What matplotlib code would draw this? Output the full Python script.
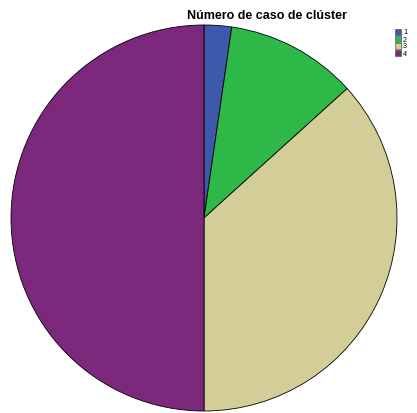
import matplotlib.pyplot as plt

plt.rcParams['font.family'] = ['Liberation Sans', 'DejaVu Sans']

# Data
clusters = ['1', '2', '3', '4']
shares = [2.3, 11.0, 36.7, 50.0]
colors = ['#3E58AC', '#2EB848', '#D3CE97', '#7C287D']

W, H = 417, 414
cx, cy, r = 204, 219, 193  # pixel centre / radius of the pie

fig = plt.figure(figsize=(W / 100, H / 100), dpi=100)
ax = fig.add_axes([0, 0, 1, 1])
wedges, _ = ax.pie(shares, colors=colors, startangle=90, counterclock=False,
                   radius=1, wedgeprops=dict(edgecolor='black', linewidth=0.6))
ax.set_xlim(-cx / r, (W - cx) / r)
ax.set_ylim(-(H - cy) / r, cy / r)
ax.set_aspect('auto')
ax.axis('off')

fig.text(267 / W, 1 - 16 / H, 'Número de caso de clúster', ha='center', va='center',
         fontsize=9, fontweight='bold')

# legend
for i, (lab, c) in enumerate(zip(clusters, colors)):
    y = 33 + i * 7
    fig.patches.append(plt.Rectangle((395 / W, 1 - (y + 3) / H), 6 / W, 6 / H,
                                     transform=fig.transFigure, facecolor=c,
                                     edgecolor='#555555', linewidth=0.5))
    fig.text(403 / W, 1 - y / H, lab, ha='left', va='center', fontsize=5.2)

fig.savefig('out.png', dpi=100)
